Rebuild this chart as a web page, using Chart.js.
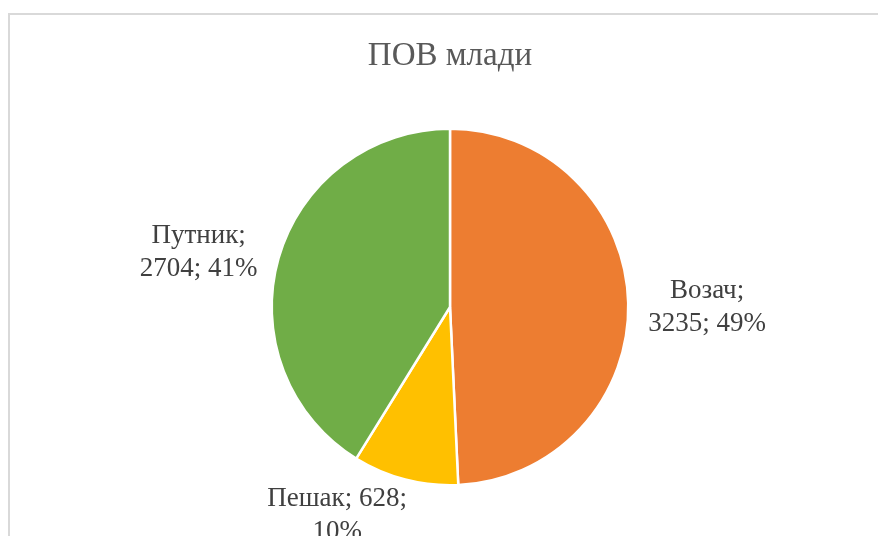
<!DOCTYPE html>
<html>
<head>
<meta charset="utf-8">
<script src="https://cdn.jsdelivr.net/npm/chart.js@4.4.1/dist/chart.umd.min.js"></script>
<style>
  html, body { margin: 0; padding: 0; background: #ffffff; }
  #wrap { width: 878px; height: 536px; position: relative; }
</style>
</head>
<body>
<div id="wrap"><canvas id="c" width="878" height="536"></canvas></div>
<script>
// Road-user categories and counts
const categories = ['Возач', 'Пешак', 'Путник'];
const counts = [3235, 628, 2704];
const percents = ['49%', '10%', '41%'];
const sliceColors = ['#ED7D31', '#FFC000', '#70AD47'];

// Label layout: where each label wraps (after which "; ") and a small shift
const labelBreakAfter = [1, 2, 1];
const labelShift = [[2, 6], [-46, -13], [-6, 8]];

const labelFont = '27px "Liberation Serif", "Times New Roman", serif';
const labelLineHeight = 33;

function labelLines(i) {
  const parts = [categories[i], String(counts[i]), percents[i]];
  const k = labelBreakAfter[i];
  return [parts.slice(0, k).join('; ') + ';', parts.slice(k).join('; ')];
}

// Light grey frame around the chart
const framePlugin = {
  id: 'frame',
  beforeDraw(chart) {
    const ctx = chart.ctx;
    ctx.save();
    ctx.strokeStyle = '#d9d9d9';
    ctx.lineWidth = 2;
    ctx.strokeRect(9, 14, chart.width + 20, chart.height + 20);
    ctx.restore();
  }
};

// Category; value; percent labels outside each slice
const sliceLabels = {
  id: 'sliceLabels',
  afterDatasetsDraw(chart) {
    const ctx = chart.ctx;
    const meta = chart.getDatasetMeta(0);
    ctx.save();
    ctx.font = labelFont;
    ctx.fillStyle = '#404040';
    ctx.textAlign = 'center';
    ctx.textBaseline = 'middle';
    meta.data.forEach((arc, i) => {
      const p = arc.getProps(['x', 'y', 'startAngle', 'endAngle', 'outerRadius'], true);
      const mid = (p.startAngle + p.endAngle) / 2;
      const lines = labelLines(i);
      const w = Math.max(...lines.map(t => ctx.measureText(t).width));
      const h = lines.length * labelLineHeight;
      const r = p.outerRadius + 18;
      const cx = p.x + Math.cos(mid) * r + Math.cos(mid) * w / 2 + labelShift[i][0];
      const cy = p.y + Math.sin(mid) * r + Math.sin(mid) * h / 2 + labelShift[i][1];
      lines.forEach((t, j) => {
        ctx.fillText(t, cx, cy - h / 2 + labelLineHeight * (j + 0.5));
      });
    });
    ctx.restore();
  }
};

new Chart(document.getElementById('c'), {
  type: 'pie',
  data: {
    labels: categories,
    datasets: [{
      data: counts,
      backgroundColor: sliceColors,
      borderColor: '#ffffff',
      borderWidth: 2.5
    }]
  },
  options: {
    responsive: false,
    animation: false,
    layout: { padding: { left: 22, right: 0, top: 0, bottom: 49.5 } },
    plugins: {
      legend: { display: false },
      tooltip: { enabled: false },
      title: {
        display: true,
        text: 'ПОВ млади',
        color: '#595959',
        font: { family: '"Liberation Serif", "Times New Roman", serif', size: 33, weight: 'normal', lineHeight: 1.2 },
        padding: { top: 36.2, bottom: 51.7 }
      }
    }
  },
  plugins: [framePlugin, sliceLabels]
});
</script>
</body>
</html>
